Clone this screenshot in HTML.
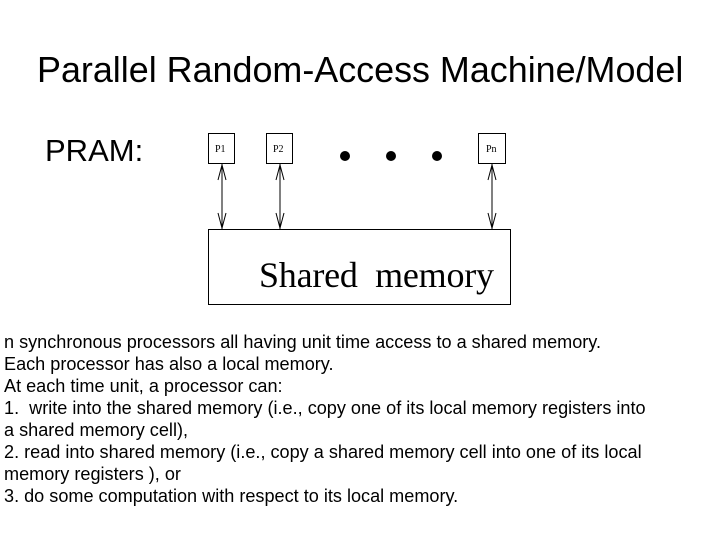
<!DOCTYPE html>
<html><head><style>
body{margin:0;width:720px;height:540px;background:#fff;position:relative;font-family:"Liberation Sans",Arial,sans-serif;overflow:hidden}
.a{position:absolute;white-space:nowrap}
#t{left:37px;top:50px;font-size:35.9px}
#p{left:45px;top:133px;font-size:31px}
#b{left:4px;top:331px;font-size:18.1px;line-height:22px}
</style></head><body>
<div class="a" id="t">Parallel Random-Access Machine/Model</div>
<div class="a" id="p">PRAM:</div>
<svg class="a" style="left:0;top:0" width="720" height="540">
<g fill="none" stroke="#000" stroke-width="1">
<rect x="208.5" y="133.5" width="26" height="30"/>
<rect x="266.5" y="133.5" width="26" height="30"/>
<rect x="478.5" y="133.5" width="27" height="30"/>
<rect x="208.5" y="229.5" width="302" height="75"/>
<path d="M222 164V229M218 180L222 165L226 180M218 213L222 228L226 213"/>
<path d="M280 164V229M276 180L280 165L284 180M276 213L280 228L284 213"/>
<path d="M492 164V229M488 180L492 165L496 180M488 213L492 228L496 213"/>
</g>
<circle cx="345" cy="156" r="5"/><circle cx="391" cy="156" r="5"/><circle cx="437" cy="156" r="5"/>
<g font-family="Liberation Serif,serif" font-size="10">
<text x="215" y="152">P1</text><text x="273" y="152">P2</text><text x="486" y="152">Pn</text>
</g>
<text x="259" y="287" font-family="Liberation Serif,serif" font-size="36" style="white-space:pre" textLength="235">Shared  memory</text>
</svg>
<div class="a" id="b">n synchronous processors all having unit time access to a shared memory.<br>Each processor has also a local memory.<br>At each time unit, a processor can:<br>1.&nbsp; write into the shared memory (i.e., copy one of its local memory registers into<br>a shared memory cell),<br>2. read into shared memory (i.e., copy a shared memory cell into one of its local<br>memory registers ), or<br>3. do some computation with respect to its local memory.</div>
</body></html>
